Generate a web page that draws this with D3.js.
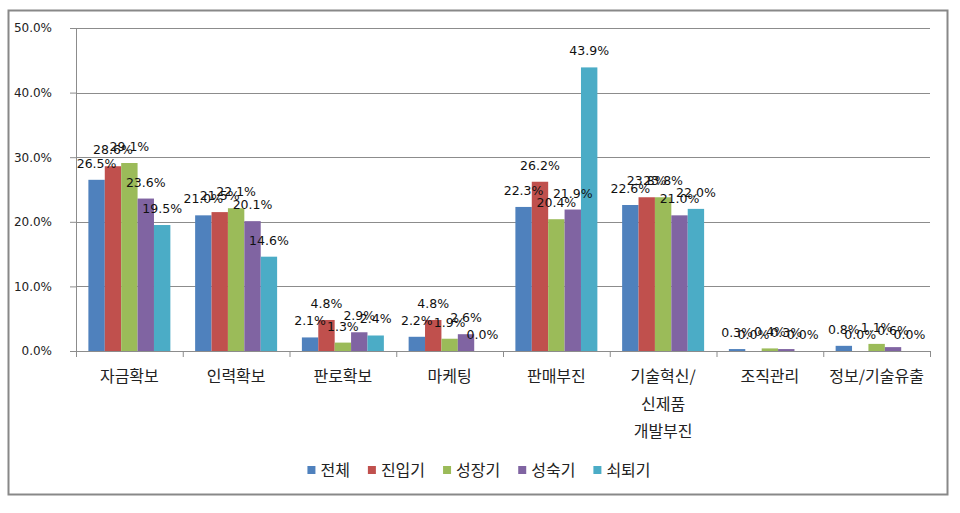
<!DOCTYPE html>
<html>
<head>
<meta charset="utf-8">
<script src="https://cdn.jsdelivr.net/npm/d3@7"></script>
<style>
  body { margin: 0; background: #fff; }
  .tick-lbl { font-family: "DejaVu Sans", Verdana, sans-serif; font-size: 12px; fill: #222; }
  .val-lbl { font-family: "DejaVu Sans", Verdana, sans-serif; font-size: 12.5px; fill: #111; }
  .cat-lbl, .leg-lbl { font-family: "Noto Sans CJK KR", sans-serif; font-size: 16px; fill: #222; }
</style>
</head>
<body>
<div id="chart"></div>
<script>
// categories and series
var categories = ["자금확보", "인력확보", "판로확보", "마케팅", "판매부진", "기술혁신/\n신제품\n개발부진", "조직관리", "정보/기술유출"];
var seriesNames = ["전체", "진입기", "성장기", "성숙기", "쇠퇴기"];
var colors = ["#4F81BD", "#C0504D", "#9BBB59", "#8064A2", "#4BACC6"];

// values in % per series (one entry per category)
var total   = [26.5, 21.0, 2.1, 2.2, 22.3, 22.6, 0.3, 0.8];
var entry   = [28.6, 21.5, 4.8, 4.8, 26.2, 23.8, 0.0, 0.0];
var growth  = [29.1, 22.1, 1.3, 1.9, 20.4, 23.8, 0.4, 1.1];
var mature  = [23.6, 20.1, 2.9, 2.6, 21.9, 21.0, 0.3, 0.6];
var decline = [19.5, 14.6, 2.4, 0.0, 43.9, 22.0, 0.0, 0.0];
var yTicks = [0, 10, 20, 30, 40, 50];

var seriesValues = [total, entry, growth, mature, decline];

var W = 960, H = 513;
var margin = {top: 28, right: 30, bottom: 162, left: 76};
var width = W - margin.left - margin.right,   // 854
    height = H - margin.top - margin.bottom;  // 323

var svg = d3.select("#chart").append("svg")
    .attr("width", W)
    .attr("height", H);

// outer frame
svg.append("rect")
  .attr("x", 8.5).attr("y", 10.5)
  .attr("width", 939).attr("height", 484)
  .attr("fill", "#fff")
  .attr("stroke", "#888").attr("stroke-width", 2);

var g = svg.append("g")
  .attr("transform", "translate(" + margin.left + "," + margin.top + ")");

var x0 = d3.scaleBand()
  .domain(d3.range(categories.length))
  .range([0, width])
  .padding(0);

var gap = x0.bandwidth() * 0.116;
var x1 = d3.scaleBand()
  .domain(d3.range(seriesNames.length))
  .range([gap, x0.bandwidth() - gap])
  .padding(0);

var y = d3.scaleLinear()
  .domain([0, 50])
  .range([height, 0]);

// gridlines
g.append("g")
  .selectAll("line")
  .data(yTicks.filter(function(d) { return d > 0; }))
  .enter().append("line")
    .attr("x1", 0).attr("x2", width)
    .attr("y1", function(d) { return Math.round(y(d)) + 0.5; })
    .attr("y2", function(d) { return Math.round(y(d)) + 0.5; })
    .attr("stroke", "#8c8c8c").attr("stroke-width", 1);

// y axis
var yAxis = g.append("g")
  .call(d3.axisLeft(y).tickValues(yTicks).tickSize(6).tickPadding(18)
    .tickFormat(function(d) { return d.toFixed(1) + "%"; }));
yAxis.select(".domain").attr("stroke", "#8c8c8c");
yAxis.selectAll(".tick line").attr("stroke", "#8c8c8c");
yAxis.selectAll(".tick text").attr("class", "tick-lbl").attr("font-family", null).attr("font-size", null);

// bars
var groups = g.selectAll(".cat")
  .data(categories)
  .enter().append("g")
    .attr("class", "cat")
    .attr("transform", function(d, i) { return "translate(" + x0(i) + ",0)"; });

groups.selectAll("rect")
  .data(function(d, i) { return seriesValues.map(function(s, k) { return {k: k, v: s[i]}; }); })
  .enter().append("rect")
    .attr("x", function(d) { return x1(d.k); })
    .attr("y", function(d) { return y(d.v); })
    .attr("width", x1.bandwidth())
    .attr("height", function(d) { return height - y(d.v); })
    .attr("fill", function(d) { return colors[d.k]; });

// x axis
var xAxis = g.append("g")
  .attr("transform", "translate(0," + height + ")")
  .call(d3.axisBottom(d3.scaleLinear().domain([0, categories.length]).range([0, width]))
    .tickValues(d3.range(categories.length + 1)).tickSize(6).tickFormat(""));
xAxis.select(".domain").attr("stroke", "#8c8c8c");
xAxis.selectAll(".tick line").attr("stroke", "#8c8c8c");

// data labels
groups.selectAll(".val-lbl")
  .data(function(d, i) { return seriesValues.map(function(s, k) { return {k: k, v: s[i]}; }); })
  .enter().append("text")
    .attr("class", "val-lbl")
    .attr("x", function(d) { return x1(d.k) + x1.bandwidth() / 2; })
    .attr("y", function(d) { return y(d.v) - 12; })
    .attr("text-anchor", "middle")
    .text(function(d) { return d.v.toFixed(1) + "%"; });

// category labels
groups.append("text")
  .attr("class", "cat-lbl")
  .attr("text-anchor", "middle")
  .attr("y", height + 31)
  .selectAll("tspan")
  .data(function(d) { return d.split("\n"); })
  .enter().append("tspan")
    .attr("x", x0.bandwidth() / 2)
    .attr("dy", function(d, i) { return i === 0 ? 0 : 27.5; })
    .text(function(d) { return d; });

// legend
var legend = svg.append("g").attr("transform", "translate(0,470)");
var items = legend.selectAll("g")
  .data(seriesNames)
  .enter().append("g");
items.append("rect")
  .attr("width", 8).attr("height", 8)
  .attr("y", -4)
  .attr("fill", function(d, i) { return colors[i]; });
items.append("text")
  .attr("class", "leg-lbl")
  .attr("x", 13)
  .attr("y", 6)
  .text(function(d) { return d; });

var cx = 0, offs = [];
items.each(function() {
  offs.push(cx);
  cx += 13 + d3.select(this).select("text").node().getComputedTextLength() + 18;
});
var totalW = cx - 18;
var startX = 479 - totalW / 2;
items.attr("transform", function(d, i) { return "translate(" + (startX + offs[i]) + ",0)"; });
</script>
</body>
</html>
